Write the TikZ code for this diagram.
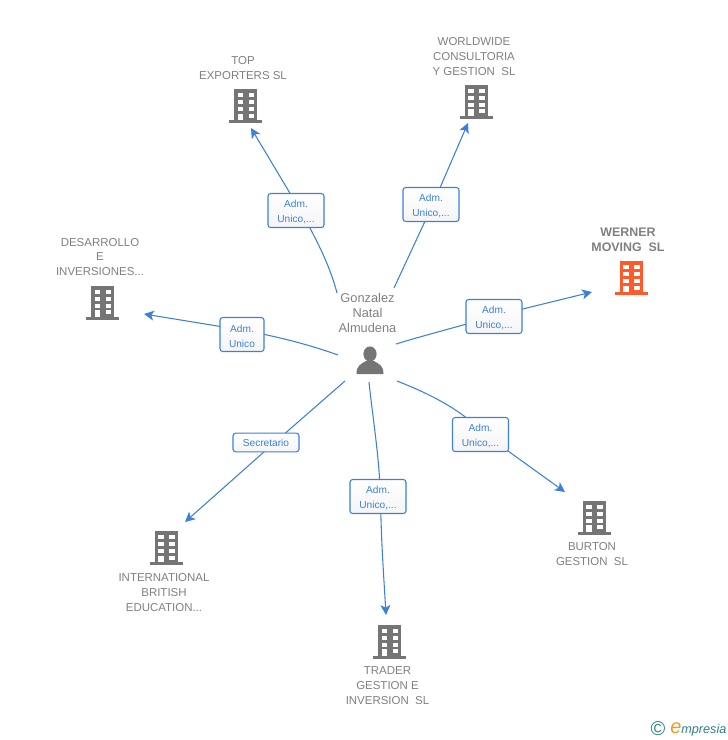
\documentclass[tikz,border=0pt]{standalone}
\usepackage{fontspec}
\setmainfont{Liberation Sans}
\usetikzlibrary{arrows.meta}
\definecolor{linkblue}{HTML}{3C80DC}
\definecolor{labelgray}{HTML}{808080}
\definecolor{icongray}{HTML}{757575}
\definecolor{werner}{HTML}{FF5A2B}
\definecolor{logoteal}{HTML}{2F7F93}
\definecolor{logoorange}{HTML}{F39A1E}
\tikzset{
	link/.style={linkblue, line width=0.8pt},
	arrowlink/.style={link, -{Stealth[length=7.5pt,width=7.5pt,inset=2pt]}},
	role/.style={draw=linkblue, line width=0.8pt, rounded corners=2pt, top color=white, bottom color=black!4, text=linkblue, font=\fontsize{7.6}{11.2}\selectfont, align=center, inner sep=0pt, minimum width=42pt, minimum height=25.5pt},
	firm/.style={text=labelgray, font=\fontsize{8.6}{11.2}\selectfont, align=center, inner sep=0pt},
	pics/tower/.style={code={
		\fill [#1] (-11.5,0) rectangle (11.5,31);
		\fill [#1] (-16.5,31) rectangle (16.5,34);
		\foreach \wy in {4,11,18,24.5} {
			\fill [white] (-8,\wy) rectangle (-2.5,\wy+4.3);
			\fill [white] (3,\wy) rectangle (8.5,\wy+4.3);
		}
		\fill [white] (-8,24.5) rectangle (-2.5,31);
	}}
}
\begin{document}
\begin{tikzpicture}[x=0.75pt,y=-0.75pt]
	\useasboundingbox (0,0) rectangle (728,740);

	% person
	\node [inner sep=0pt] at (370,361) (person) {};
	\fill [icongray] (370,354) ellipse (6.6 and 7.6);
	\fill [icongray] (356.5,374) .. controls (356.5,366) and (360,364.5) .. (366,361) -- (374,361) .. controls (380,364.5) and (383.5,366) .. (383.5,374) -- cycle;
	\node [firm, font=\fontsize{9.6}{11.2}\selectfont] at (367.5,313) (gonzalez) {Gonzalez\\Natal\\Almudena};

	% firms
	\node [firm] at (243,68) (top) {TOP\\EXPORTERS SL};
	\pic at (245.5,89) {tower=icongray};
	\node [firm] at (474,56.5) (worldwide) {WORLDWIDE\\CONSULTORIA\\Y GESTION\ \ SL};
	\pic at (476,84.5) {tower=icongray};
	\node [firm, font=\fontsize{9.3}{11.2}\selectfont\bfseries] at (628,239.5) (wernerlabel) {WERNER\\MOVING\ \ SL};
	\pic at (631,261) {tower=werner};
	\node [firm] at (100,257) (desarrollo) {DESARROLLO\\E\\INVERSIONES...};
	\pic at (102.5,285.5) {tower=icongray};
	\node [firm] at (592,554.5) (burton) {BURTON\\GESTION\ \ SL};
	\pic at (594,500.5) {tower=icongray};
	\node [firm] at (164,592.5) (british) {INTERNATIONAL\\BRITISH\\EDUCATION...};
	\pic at (166,531) {tower=icongray};
	\node [firm] at (387.5,685.5) (trader) {TRADER\\GESTION E\\INVERSION\ \ SL};
	\pic at (389.5,624.5) {tower=icongray};

	% free ends
	\coordinate (s1) at (337,293);
	\coordinate (e1) at (251,128);
	\coordinate (s2) at (394,288);
	\coordinate (e2) at (468,123);
	\coordinate (s3) at (396,344);
	\coordinate (e3) at (592,292);
	\coordinate (s4) at (397,381);
	\coordinate (e4) at (565,492);
	\coordinate (s5) at (369,382);
	\coordinate (e5) at (386,615);
	\coordinate (s6) at (345,381);
	\coordinate (e6) at (185,522);
	\coordinate (s7) at (338,355);
	\coordinate (e7) at (144,314);

	% links under the boxes
	\draw [link] (s1) .. controls (331,270) and (320,245) .. (300,210);
	\draw [arrowlink] (300,210) -- (e1);
	\draw [link] (s2) -- (433,204);
	\draw [arrowlink] (433,204) -- (e2);
	\draw [link] (s3) .. controls (425,335) and (465,325) .. (494,316);
	\draw [arrowlink] (494,316) -- (e3);
	\draw [link] (s4) .. controls (425,392) and (460,408) .. (483,433);
	\draw [arrowlink] (483,433) -- (e4);
	\draw [link] (s5) .. controls (373,420) and (379,455) .. (380.5,496);
	\draw [arrowlink] (380.5,496) .. controls (381,540) and (384,580) .. (e5);
	\draw [link] (s6) -- (274,443);
	\draw [arrowlink] (274,443) -- (e6);
	\draw [link] (s7) .. controls (310,345) and (280,337) .. (242,330);
	\draw [arrowlink] (242,330) -- (e7);

	% roles
	\node [role] at (296,210.5) (r1) {\rule{0pt}{8pt}Adm.\\Unico,...};
	\node [role] at (431,204.5) (r2) {\rule{0pt}{8pt}Adm.\\Unico,...};
	\node [role] at (494,316.5) (r3) {\rule{0pt}{8pt}Adm.\\Unico,...};
	\node [role] at (480.5,434.5) (r4) {\rule{0pt}{8pt}Adm.\\Unico,...};
	\node [role] at (378,496.5) (r5) {\rule{0pt}{8pt}Adm.\\Unico,...};
	\node [role, minimum width=49.5pt, minimum height=14pt] at (266,442.5) (r6) {Secretario};
	\node [role, minimum width=33pt] at (242,334.5) (r7) {\rule{0pt}{8pt}Adm.\\Unico};

	% logo
	\node [inner sep=0pt, text=logoteal, font=\fontsize{15}{15}\selectfont] at (658,729) (copy) {©};
	\node [inner sep=0pt, anchor=base west, font=\fontsize{9.5}{10}\selectfont\itshape, text=logoteal] at (670,733) (logo) {\textcolor{logoorange}{\fontsize{15}{15}\selectfont e}mpresia};
\end{tikzpicture}
\end{document}
